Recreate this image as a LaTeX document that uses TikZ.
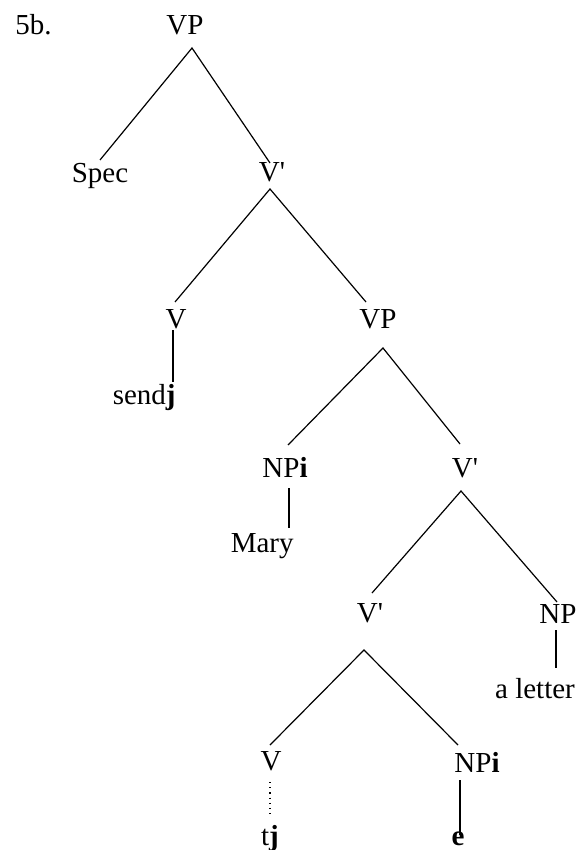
\documentclass[tikz,border=0pt]{standalone}
\usepackage{fontspec}
\newfontfamily\treefont{Liberation Serif}
\begin{document}
\begin{tikzpicture}[x=0.5pt,y=-0.5pt,
  lbl/.style={font=\treefont\fontsize{14.5pt}{17pt}\selectfont, inner sep=0pt, anchor=base},
  lbl east/.style={lbl, anchor=base east},
  branch/.style={line width=0.6pt},
  trace/.style={line width=0.6pt, dotted}]
\useasboundingbox (0,0) rectangle (582,850);
% nodes
\node[lbl] (lab) at (33.5,35) {5b.};
\node[lbl] (vp0) at (185,35) {VP};
\node[lbl] (spec) at (100,183) {Spec};
\node[lbl] (vb1) at (272,182) {V'};
\node[lbl] (v2) at (176,328) {V};
\node[lbl east] (sendj) at (176,404) {send\textbf{j}};
\node[lbl] (vp2) at (378,328) {VP};
\node[lbl] (npi3) at (285,477) {NP\textbf{i}};
\node[lbl east] (mary) at (294,552) {Mary};
\node[lbl] (vb3) at (465,477) {V'};
\node[lbl] (vb4) at (370,622) {V'};
\node[lbl] (np4) at (558,623) {NP};
\node[lbl] (alet) at (535,698) {a letter};
\node[lbl] (v5) at (271,770) {V};
\node[lbl] (tj) at (270,845) {t\textbf{j}};
\node[lbl] (npi5) at (477,772) {NP\textbf{i}};
\node[lbl] (e) at (458,845) {\textbf{e}};
% branches
\draw[branch] ([shift={(0,-23)}]spec.base) -- ([shift={(7,13)}]vp0.base) -- ([shift={(-2,-19)}]vb1.base);
\draw[branch] ([shift={(-1,-26)}]v2.base) -- ([shift={(-2,7)}]vb1.base) -- ([shift={(-12,-26)}]vp2.base);
\draw[branch] ([shift={(-3,2)}]v2.base) -- ([shift={(-3,-22)}]sendj.base east);
\draw[branch] ([shift={(3,-32)}]npi3.base) -- ([shift={(5,20)}]vp2.base) -- ([shift={(-5,-33)}]vb3.base);
\draw[branch] ([shift={(4,11)}]npi3.base) -- ([shift={(-5,-24)}]mary.base east);
\draw[branch] ([shift={(2,-29)}]vb4.base) -- ([shift={(-4,14)}]vb3.base) -- ([shift={(-1,-21)}]np4.base);
\draw[branch] ([shift={(-2,7)}]np4.base) -- ([shift={(21,-30)}]alet.base);
\draw[branch] ([shift={(-1,-25)}]v5.base) -- ([shift={(-6,28)}]vb4.base) -- ([shift={(-19,-27)}]npi5.base);
\draw[trace] ([shift={(-1,12)}]v5.base) -- ([shift={(0,-30)}]tj.base);
\draw[branch] ([shift={(-17,8)}]npi5.base) -- ([shift={(2,-10)}]e.base);
\end{tikzpicture}
\end{document}
